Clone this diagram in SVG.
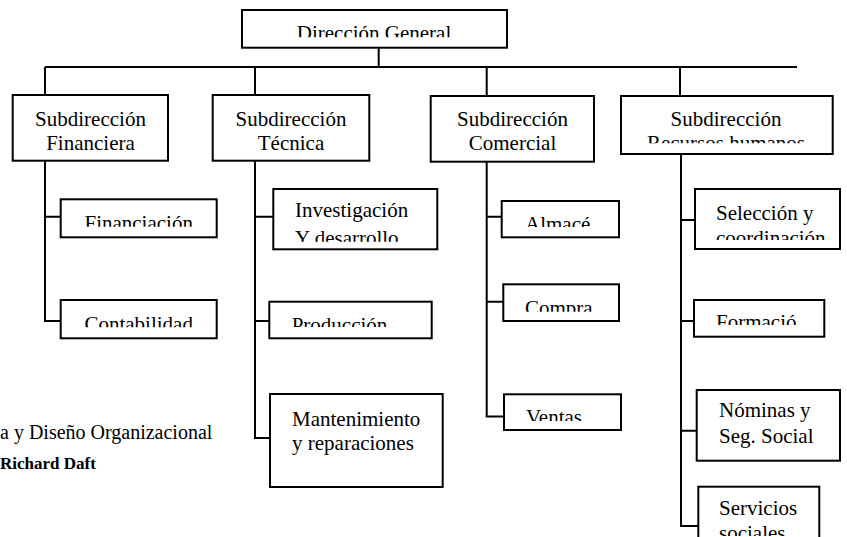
<svg xmlns="http://www.w3.org/2000/svg" width="847" height="537" viewBox="0 0 847 537">
<style>
.box{fill:#fff;stroke:#000;stroke-width:2}
.ln{fill:none;stroke:#000;stroke-width:2}
.t{font-family:"Liberation Serif","Times New Roman",serif;font-size:21px;fill:#000}
.c{text-anchor:middle}
.cap{font-family:"Liberation Serif","Times New Roman",serif;font-size:20px;fill:#000}
.b{font-weight:bold;font-size:17px}
</style>
<defs>
<clipPath id="k-dg"><rect x="242" y="10" width="265" height="27.3"/></clipPath>
<clipPath id="k-rh"><rect x="621" y="96" width="212" height="47.3"/></clipPath>
<clipPath id="k-fci"><rect x="60" y="199" width="157" height="27.7"/></clipPath>
<clipPath id="k-con"><rect x="60" y="300" width="157" height="27.3"/></clipPath>
<clipPath id="k-inv"><rect x="273" y="189" width="165" height="52.7"/></clipPath>
<clipPath id="k-pro"><rect x="269" y="301" width="163" height="26"/></clipPath>
<clipPath id="k-alm"><rect x="501" y="201" width="118" height="26"/></clipPath>
<clipPath id="k-cmp"><rect x="503" y="284" width="116" height="27.7"/></clipPath>
<clipPath id="k-ven"><rect x="504" y="394" width="117" height="27"/></clipPath>
<clipPath id="k-sel"><rect x="695" y="189" width="145" height="51"/></clipPath>
<clipPath id="k-for"><rect x="694" y="300" width="130" height="25"/></clipPath>
<clipPath id="k-ser"><rect x="698" y="486" width="121" height="50"/></clipPath>
</defs>

<g id="connectors">
<path class="ln" d="M378.7 47.7V67M45 67H797M45 67V95M255 67V95M486.7 67V96M680 67V96"/>
<path class="ln" d="M45 160.7V321H60.7M45 216.7H60.7"/>
<path class="ln" d="M255 160.7V438H270M255 216.7H273.3M255 321H269.3"/>
<path class="ln" d="M486.7 161.7V416.5H504M486.7 216.7H501.7M486.7 301.7H503.3"/>
<path class="ln" d="M681 154V526H698.3M681 220H695M681 321H694M681 430.7H696.7"/>
</g>

<g id="n-direccion-general">
<rect class="box" x="242" y="10" width="265" height="37.7"/>
<text class="t c" x="374" y="40" clip-path="url(#k-dg)">Dirección General</text>
</g>

<g id="n-sub-financiera">
<rect class="box" x="12.7" y="95" width="155.3" height="65.7"/>
<text class="t c" x="90.5" y="125.5">Subdirección</text>
<text class="t c" x="90.5" y="150">Financiera</text>
</g>

<g id="n-sub-tecnica">
<rect class="box" x="212.7" y="95" width="156.6" height="65.7"/>
<text class="t c" x="291" y="125.5">Subdirección</text>
<text class="t c" x="291" y="150">Técnica</text>
</g>

<g id="n-sub-comercial">
<rect class="box" x="430.7" y="96" width="163.3" height="65.7"/>
<text class="t c" x="512.5" y="126">Subdirección</text>
<text class="t c" x="512.5" y="150">Comercial</text>
</g>

<g id="n-sub-rrhh">
<rect class="box" x="621" y="96" width="211.7" height="58"/>
<g clip-path="url(#k-rh)">
<text class="t c" x="726" y="126">Subdirección</text>
<text class="t c" x="726" y="150">Recursos humanos</text>
</g>
</g>

<g id="n-financiacion">
<rect class="box" x="60.7" y="199.3" width="156" height="38"/>
<text class="t c" x="138.7" y="230" clip-path="url(#k-fci)">Financiación</text>
</g>

<g id="n-contabilidad">
<rect class="box" x="60.7" y="300" width="156" height="38.3"/>
<text class="t c" x="138.7" y="331" clip-path="url(#k-con)">Contabilidad</text>
</g>

<g id="n-investigacion">
<rect class="box" x="273.3" y="189" width="164" height="60.3"/>
<g clip-path="url(#k-inv)">
<text class="t" x="295" y="217.3">Investigación</text>
<text class="t" x="295" y="245">Y desarrollo</text>
</g>
</g>

<g id="n-produccion">
<rect class="box" x="269.3" y="301.7" width="162.4" height="36.6"/>
<text class="t" x="291.7" y="332" clip-path="url(#k-pro)">Producción</text>
</g>

<g id="n-mantenimiento">
<rect class="box" x="270" y="394" width="172.7" height="93"/>
<text class="t" x="292" y="426">Mantenimiento</text>
<text class="t" x="292" y="450">y reparaciones</text>
</g>

<g id="n-almacen">
<rect class="box" x="501.7" y="201" width="117.3" height="36.3"/>
<text class="t" x="525" y="231" clip-path="url(#k-alm)">Almacé</text>
</g>

<g id="n-compra">
<rect class="box" x="503.3" y="284.3" width="115.7" height="36.7"/>
<text class="t" x="525" y="314.5" clip-path="url(#k-cmp)">Compra</text>
</g>

<g id="n-ventas">
<rect class="box" x="504" y="394.3" width="117" height="35.7"/>
<text class="t" x="526" y="424" clip-path="url(#k-ven)">Ventas</text>
</g>

<g id="n-seleccion">
<rect class="box" x="695" y="189" width="145" height="60"/>
<g clip-path="url(#k-sel)">
<text class="t" x="716" y="220">Selección y</text>
<text class="t" x="716" y="244.5">coordinación</text>
</g>
</g>

<g id="n-formacion">
<rect class="box" x="694" y="300" width="130.3" height="36.7"/>
<text class="t" x="716" y="329" clip-path="url(#k-for)">Formació</text>
</g>

<g id="n-nominas">
<rect class="box" x="696.7" y="390" width="143.3" height="70.7"/>
<text class="t" x="719" y="416.7">Nóminas y</text>
<text class="t" x="719" y="443">Seg. Social</text>
</g>

<g id="n-servicios">
<rect class="box" x="698.3" y="486.7" width="121" height="60"/>
<g clip-path="url(#k-ser)">
<text class="t" x="719" y="515">Servicios</text>
<text class="t" x="719" y="539.5">sociales</text>
</g>
</g>

<g id="caption">
<text class="cap" x="0" y="439">a y Diseño Organizacional</text>
<text class="cap b" x="0" y="469">Richard Daft</text>
</g>
</svg>
